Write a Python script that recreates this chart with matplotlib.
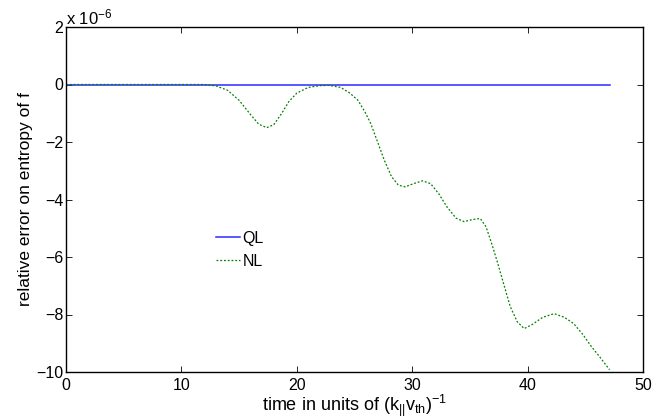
import matplotlib
matplotlib.use("Agg")
import matplotlib.pyplot as plt

plt.rcParams['font.family'] = ['Liberation Sans', 'DejaVu Sans']
plt.rcParams['mathtext.fontset'] = 'custom'
plt.rcParams['mathtext.rm'] = 'Liberation Sans'
plt.rcParams['mathtext.it'] = 'Liberation Sans'
plt.rcParams['mathtext.default'] = 'regular'
plt.rcParams['axes.unicode_minus'] = True

# data (relative error in units of 1e-6)
ql_t = [0, 47.1]
ql_v = [0, 0]
nl_t = [0, 5, 10, 12, 13, 14, 15, 16, 16.7, 17.4, 18, 18.7, 19.3, 20, 21, 22, 22.8,
        23.8, 24.6, 25.3, 25.9, 26.4, 27.0, 27.6, 28.2, 28.8, 29.4, 30.1, 30.9, 31.6,
        32.3, 33.0, 33.8, 34.5, 35.2, 35.9, 36.4, 36.9, 37.4, 37.9, 38.5, 39.1, 39.7,
        40.4, 41.3, 42.3, 43.2, 44.0, 44.8, 45.5, 46.3, 47.1]
nl_v = [0, 0, 0, 0, -0.05, -0.2, -0.55, -1.05, -1.38, -1.5, -1.4, -1.0, -0.6, -0.3,
        -0.1, -0.04, -0.03, -0.1, -0.3, -0.55, -0.95, -1.35, -2.0, -2.65, -3.2, -3.5,
        -3.56, -3.45, -3.35, -3.45, -3.8, -4.25, -4.65, -4.77, -4.7, -4.66, -4.95,
        -5.55, -6.2, -6.9, -7.73, -8.25, -8.49, -8.35, -8.1, -7.97, -8.1, -8.32, -8.7,
        -9.1, -9.5, -9.92]
xticks = [0, 10, 20, 30, 40, 50]
yticks = [2, 0, -2, -4, -6, -8, -10]

fig = plt.figure(figsize=(6.66, 4.2), dpi=100)
ax = fig.add_axes([66/666, 48/420, 577/666, 345/420])
ax.plot(ql_t, ql_v, color='#2a2aff', lw=1.1, label='QL')
ax.plot(nl_t, nl_v, color=(0, 0.5, 0), lw=0.9, ls=(0, (1.5, 1.5)), label='NL')
ax.set_xlim(0, 50)
ax.set_ylim(-10, 2)
ax.set_xticks(xticks)
ax.set_yticks(yticks)
ax.set_yticklabels([str(v).replace('-', '\u2212') for v in yticks])
ax.tick_params(direction='in', top=True, right=True, length=4, width=0.6,
               labelsize=11.5)
ax.tick_params(axis='x', pad=4)
ax.tick_params(axis='y', pad=2)
for s in ax.spines.values():
    s.set_linewidth(1.0)
ax.set_xlabel('time in units of (k$_{||}$v$_{th}$)$^{-1}$', fontsize=13, labelpad=0)
ax.set_ylabel('relative error on entropy of f', fontsize=12.5, labelpad=2)
ax.text(0.0, 1.0, 'x 10$^{-6}$', transform=ax.transAxes, fontsize=12,
        ha='left', va='bottom')
leg = ax.legend(loc='center left', bbox_to_anchor=(0.235, 0.355), frameon=False,
                fontsize=11.5, handlelength=1.5, handletextpad=0.15, labelspacing=0.5)
fig.savefig('out.png', dpi=100)
